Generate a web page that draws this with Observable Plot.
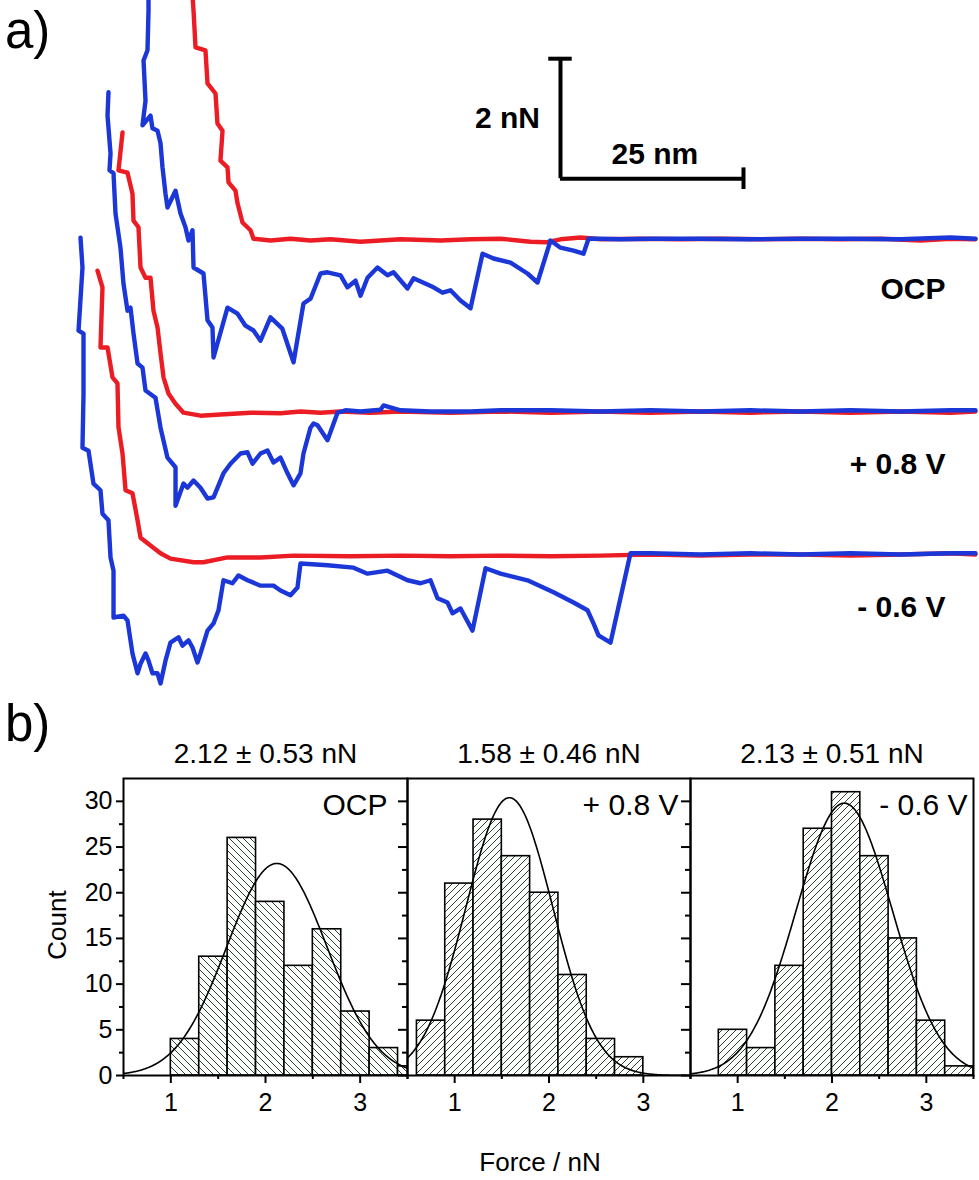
<!DOCTYPE html>
<html><head><meta charset="utf-8">
<script src="https://cdn.jsdelivr.net/npm/d3@7"></script>
<script src="https://cdn.jsdelivr.net/npm/@observablehq/plot@0.6"></script>
<style>
body{margin:0;background:#fff;}
#root{position:relative;width:979px;height:1180px;background:#fff;font-family:"Liberation Sans",Arial,sans-serif;overflow:hidden;color:#000;}
#root > svg, #root > figure{position:absolute;margin:0;}
.lbl{position:absolute;line-height:normal;white-space:nowrap;}
</style></head><body>
<svg width="0" height="0" style="position:absolute">
<defs>
<pattern id="hatchBack" patternUnits="userSpaceOnUse" width="7" height="7">
<rect width="7" height="7" fill="#fff"/>
<path d="M-1,-1L8,8M-1,6L1,8M6,-1L8,1" stroke="#274629" stroke-width="1"/>
</pattern>
<pattern id="hatchFwd" patternUnits="userSpaceOnUse" width="7" height="7">
<rect width="7" height="7" fill="#fff"/>
<path d="M-1,8L8,-1M-1,1L1,-1M6,8L8,6" stroke="#274629" stroke-width="1"/>
</pattern>
</defs>
</svg>
<div id="root"></div>
<script>
// ---------- Panel a) force–distance traces: [distance nm, force nN relative to own baseline]
const conditions = ["OCP", "+ 0.8 V", "- 0.6 V"];
const baselineOffset = [0, -2.85, -5.233]; // vertical stacking of the three pairs (nN)

const ocpRed = [[16.23,4.08],[16.37,3.83],[16.64,3.22],[18.0,3.17],[18.28,2.62],[19.37,2.45],[19.64,1.95],[20.33,1.83],[20.05,1.33],[21.01,1.22],[21.15,0.97],[22.1,0.83],[22.38,0.62],[23.06,0.3],[24.15,0.17],[24.56,0.03],[26.88,0],[29.62,0.03],[32.35,0],[35.08,0.02],[39.18,-0.02],[44.64,0.02],[50.11,0],[54.21,0.02],[58.31,0.03],[62.4,-0.02],[64.45,-0.03],[66.5,0.02],[69.23,0.05],[71.97,0.02],[77.43,0.03],[82.9,0.02],[88.36,0.03],[93.82,0.02],[99.29,0.03],[104.75,0.02],[110.22,0.03],[115.68,0],[119.78,0.03],[123.19,0.02]];
const ocpBlue = [[10.22,4.08],[10.22,3.83],[10.08,3.17],[9.54,3.0],[9.81,2.33],[9.4,1.92],[10.49,2.08],[10.76,1.87],[11.45,1.83],[11.86,1.62],[12.13,1.22],[12.54,0.78],[12.81,0.55],[13.91,0.83],[14.59,0.45],[15.27,0.22],[15.68,0],[16.23,0.17],[16.37,-0.45],[17.73,-0.55],[18.28,-1.33],[18.96,-1.45],[19.1,-1.95],[21.01,-1.12],[22.38,-1.22],[23.47,-1.42],[24.56,-1.5],[25.52,-1.67],[26.88,-1.28],[28.5,-1.47],[30.03,-2.03],[31.39,-1.05],[32.35,-0.97],[33.72,-0.55],[34.67,-0.53],[36.45,-0.58],[37.4,-0.78],[38.5,-0.67],[39.18,-0.92],[40.14,-0.62],[41.5,-0.45],[42.87,-0.58],[43.69,-0.53],[45.6,-0.8],[46.42,-0.63],[49.15,-0.78],[50.38,-0.87],[51.47,-0.83],[52.84,-1.0],[54.21,-1.13],[55.85,-0.22],[57.35,-0.3],[59.67,-0.37],[61.99,-0.55],[63.36,-0.7],[65.14,0.0],[66.5,-0.12],[68.28,-0.17],[69.64,-0.22],[70.33,0.03],[71.97,0.03],[74.7,0.02],[78.8,0.03],[85.63,0.03],[92.46,0.02],[99.29,0.03],[106.12,0.03],[112.95,0.02],[119.78,0.05],[123.19,0.03]];
const plus08Red = [[6.67,4.65],[6.12,4.02],[7.35,3.98],[8.03,3.63],[8.17,3.18],[8.85,3.07],[9.13,2.4],[9.81,2.23],[10.49,2.23],[10.9,1.68],[11.45,1.4],[11.86,0.97],[12.27,0.57],[12.95,0.3],[13.91,0.13],[15.0,-0.02],[17.32,-0.07],[20.05,-0.05],[24.15,-0.02],[28.25,-0.03],[30.98,0],[33.72,-0.02],[36.45,0],[40.55,-0.02],[44.64,0],[51.47,-0.02],[58.31,0],[65.14,-0.02],[71.97,0],[78.8,-0.02],[85.63,0],[92.46,-0.02],[99.29,0],[106.12,-0.02],[112.95,0],[119.78,-0.02],[123.19,0]];
const plus08Blue = [[4.75,5.32],[4.62,4.93],[5.03,4.3],[4.89,4.02],[5.44,3.97],[5.71,3.3],[6.39,2.73],[6.8,2.13],[7.35,1.68],[7.76,1.73],[8.17,1.3],[8.72,0.8],[9.4,0.73],[9.81,0.35],[11.17,0.23],[11.86,-0.27],[12.81,-0.77],[13.91,-0.93],[13.91,-1.57],[15.0,-1.2],[15.55,-1.27],[16.37,-1.15],[17.32,-1.27],[18.28,-1.45],[19.1,-1.43],[20.46,-1.03],[21.42,-0.87],[22.79,-0.7],[23.74,-0.68],[24.43,-0.87],[25.52,-0.7],[26.47,-0.65],[27.29,-0.85],[28.25,-0.77],[29.21,-1.03],[30.03,-1.23],[30.98,-1.03],[31.39,-0.7],[32.35,-0.27],[32.76,-0.2],[33.31,-0.23],[34.67,-0.48],[36.04,-0.02],[37.13,0.02],[39.18,0],[41.91,0.03],[42.32,0.1],[44.64,0.02],[48.74,0],[54.21,0],[58.31,0.02],[65.14,0.02],[71.97,0],[78.8,0.02],[85.63,0],[92.46,0.02],[99.29,0],[106.12,0.02],[112.95,0],[119.78,0.02],[123.19,0.02]];
const minus06Red = [[3.25,4.73],[3.93,4.45],[3.66,3.45],[4.62,3.45],[5.3,2.95],[5.98,2.85],[6.12,2.12],[6.67,1.68],[7.08,1.07],[8.03,1.02],[8.72,0.57],[9.13,0.28],[10.49,0.15],[11.86,0.02],[13.22,-0.07],[16.37,-0.13],[17.73,-0.13],[21.01,-0.05],[25.52,-0.05],[30.03,-0.02],[37.81,-0.03],[44.64,-0.02],[51.47,-0.03],[58.31,-0.02],[65.14,-0.03],[71.97,-0.02],[78.8,0],[85.63,-0.02],[92.46,0],[99.29,0],[106.12,-0.02],[112.95,0],[119.78,0.02],[123.19,0]];
const minus06Blue = [[0.93,5.28],[1.2,4.78],[0.66,3.73],[1.34,3.68],[1.34,2.68],[1.2,1.78],[2.02,1.73],[2.7,1.18],[3.66,1.07],[3.93,0.68],[4.75,0.57],[5.03,-0.05],[5.44,-0.27],[5.44,-1.05],[6.8,-1.02],[7.35,-1.1],[8.03,-1.65],[8.72,-1.98],[9.13,-1.82],[9.81,-1.65],[10.22,-1.77],[10.76,-1.98],[11.45,-1.98],[11.86,-2.15],[12.54,-1.77],[13.22,-1.47],[14.32,-1.38],[14.86,-1.52],[15.68,-1.43],[16.23,-1.55],[16.91,-1.8],[17.32,-1.65],[18.28,-1.27],[19.1,-1.15],[19.78,-0.93],[20.46,-0.43],[21.69,-0.48],[22.51,-0.35],[23.74,-0.43],[24.56,-0.47],[25.52,-0.52],[27.29,-0.52],[28.25,-0.6],[29.62,-0.68],[30.57,-0.55],[30.98,-0.15],[34.67,-0.18],[38.22,-0.22],[40.14,-0.32],[42.87,-0.27],[45.6,-0.43],[47.38,-0.48],[48.74,-0.43],[49.7,-0.73],[51.06,-0.8],[51.75,-0.98],[52.84,-0.9],[54.48,-1.27],[56.26,-0.23],[58.31,-0.32],[61.99,-0.43],[65.55,-0.63],[68.28,-0.8],[70.19,-0.93],[71.01,-1.15],[71.69,-1.35],[73.33,-1.47],[76.06,0.02],[78.8,0.02],[85.63,0],[92.46,0.02],[99.29,0],[106.12,0.02],[112.95,0],[119.78,0.02],[123.19,0.02]];

const redTraces = [ocpRed, plus08Red, minus06Red];
const blueTraces = [ocpBlue, plus08Blue, minus06Blue];
const labelOffset = [-0.82, -0.875, -0.875]; // condition label height below each baseline (nN)
const labelX = 119.1;                          // right end of condition labels (nm)
const scaleBarNm = 25, scaleBarNN = 2;
const scaleOrigin = [66.5, 1.03];              // corner of the scale bar (nm, nN)

// ---------- Panel b) histograms
const binWidth = 0.3;
const binStarts = [
  [1.0, 1.3, 1.6, 1.9, 2.2, 2.5, 2.8, 3.1, 3.4],
  [0.6, 0.9, 1.2, 1.5, 1.8, 2.1, 2.4, 2.7],
  [0.8, 1.1, 1.4, 1.7, 2.0, 2.3, 2.6, 2.9, 3.2]
];
const binCounts = [
  [4, 13, 26, 19, 12, 16, 7, 3, 1],
  [6, 21, 28, 24, 20, 11, 4, 2],
  [5, 3, 12, 27, 31, 24, 15, 6, 1]
];
const fitMean = [2.12, 1.58, 2.13];
const fitSd = [0.53, 0.46, 0.51];
const fitPeak = [23.2, 30.4, 29.8];
const histLabels = ["OCP", "+ 0.8 V", "- 0.6 V"];
const yTicks = [0, 5, 10, 15, 20, 25, 30];
const yMinor = [2.5, 7.5, 12.5, 17.5, 22.5, 27.5];
const xTicks = [1, 2, 3];
const xMinor = [0.5, 1.5, 2.5, 3.5];

const FONT = "Liberation Sans, Arial, sans-serif";
const RED = "#ec1c24", BLUE = "#1b37d8";
const root = document.getElementById("root");

function place(el, left, top) { el.style.left = left + "px"; el.style.top = top + "px"; root.appendChild(el); }

// ----- panel a
const toRows = (pts, k) => pts.map(([x, y]) => ({x, y: y + baselineOffset[k]}));
const lineOpts = (stroke) => ({x: "x", y: "y", stroke, strokeWidth: 4.4, strokeLinejoin: "round", strokeLinecap: "round", clip: true});
const [sx, sy] = scaleOrigin;
const plotA = Plot.plot({
  width: 979, height: 700, margin: 0,
  x: {domain: [-10, 123.74], axis: null},
  y: {domain: [-7.667, 4], axis: null},
  style: {background: "transparent", fontFamily: FONT, color: "black", overflow: "visible"},
  marks: [
    ...redTraces.map((t, k) => Plot.line(toRows(t, k), lineOpts(RED))),
    ...blueTraces.map((t, k) => Plot.line(toRows(t, k), lineOpts(BLUE))),
    Plot.ruleX([sx], {y1: sy, y2: sy + scaleBarNN, strokeWidth: 4, stroke: "black"}),
    Plot.ruleY([sy], {x1: sx, x2: sx + scaleBarNm, strokeWidth: 4, stroke: "black"}),
    Plot.ruleY([sy + scaleBarNN], {x1: sx - 1.6, x2: sx + 1.6, strokeWidth: 4, stroke: "black"}),
    Plot.ruleX([sx + scaleBarNm], {y1: sy - 0.18, y2: sy + 0.18, strokeWidth: 4, stroke: "black"}),
    Plot.text([`${scaleBarNN} nN`], {x: sx - 2.8, y: sy + scaleBarNN / 2, text: d => d, textAnchor: "end", fontWeight: "bold", fontSize: 30, fill: "black"}),
    Plot.text([`${scaleBarNm} nm`], {x: sx + 12.9, y: sy + 0.4, text: d => d, textAnchor: "middle", fontWeight: "bold", fontSize: 30, fill: "black"}),
    Plot.text(conditions.map((c, k) => ({c, y: baselineOffset[k] + labelOffset[k]})), {x: () => labelX, y: "y", text: "c", textAnchor: "end", fontWeight: "bold", fontSize: 30, fill: "black"})
  ]
});
place(plotA, 0, 0);

// ----- panel b
const panelLeft = [0, 405, 688], panelWidth = [409, 287, 287], panelML = [123, 2, 2];
const labelDx = [20, 12, 6];
const patterns = ["url(#hatchBack)", "url(#hatchFwd)", "url(#hatchFwd)"];
const noText = () => "";
for (let k = 0; k < 3; k++) {
  const bars = binStarts[k].map((b, j) => ({x1: b, x2: b + binWidth, y2: binCounts[k][j]}));
  const curve = d3.range(0.5, 3.5001, 0.01).map(x => ({x, y: fitPeak[k] * Math.exp(-((x - fitMean[k]) ** 2) / (2 * fitSd[k] ** 2))}));
  const title = `${fitMean[k].toFixed(2)} ± ${fitSd[k].toFixed(2)} nN`;
  const marks = [
    Plot.rect(bars, {x1: "x1", x2: "x2", y1: 0, y2: "y2", fill: patterns[k], stroke: "black", strokeWidth: 1.6, clip: true}),
    Plot.line(curve, {x: "x", y: "y", stroke: "black", strokeWidth: 1.6, clip: true}),
    Plot.frame({stroke: "black", strokeWidth: 2}),
    Plot.axisX({ticks: xTicks, tickSize: 8, tickPadding: 10, tickFormat: d => String(d), strokeWidth: 2, fontSize: 25, label: null}),
    Plot.axisX({ticks: xMinor, tickSize: 4, tickFormat: noText, strokeWidth: 2, label: null}),
    Plot.text([title], {frameAnchor: "top", dy: -16, lineAnchor: "bottom", text: d => d, fontSize: 28, fill: "black"}),
    Plot.text([histLabels[k]], {frameAnchor: "top-right", textAnchor: "end", lineAnchor: "top", dx: -labelDx[k], dy: 15, text: d => d, fontSize: 30, fill: "black"})
  ];
  if (k === 0) {
    marks.push(Plot.axisY({anchor: "left", ticks: yTicks, tickSize: 7, tickPadding: 4, tickFormat: d => String(d), strokeWidth: 2, fontSize: 25, label: null}));
    marks.push(Plot.axisY({anchor: "left", ticks: yMinor, tickSize: 4, tickFormat: noText, strokeWidth: 2, label: null}));
  }
  if (k < 2) {
    marks.push(Plot.axisY({anchor: "right", ticks: yTicks, tickSize: 10, dx: -10, tickFormat: noText, strokeWidth: 2, label: null}));
    marks.push(Plot.axisY({anchor: "right", ticks: yMinor, tickSize: 6, dx: -6, tickFormat: noText, strokeWidth: 2, label: null}));
  }
  const p = Plot.plot({
    width: panelWidth[k], height: 480,
    marginTop: 78, marginBottom: 105, marginLeft: panelML[k], marginRight: 2,
    x: {domain: [0.5, 3.5]},
    y: {domain: [0, 32.5], axis: k === 2 ? null : undefined},
    style: {background: "transparent", fontFamily: FONT, color: "black", overflow: "visible"},
    marks
  });
  place(p, panelLeft[k], 700);
}

// ----- text outside the plots
function label(text, css) { const d = document.createElement("div"); d.className = "lbl"; d.textContent = text; Object.assign(d.style, css); root.appendChild(d); return d; }
label("a)", {left: "5px", top: "1px", fontSize: "51px"});
label("b)", {left: "5px", top: "694px", fontSize: "51px"});
label("Count", {left: "57px", top: "925px", fontSize: "26px", transform: "translate(-50%,-50%) rotate(-90deg)"});
label("Force / nN", {left: "540px", top: "1162px", fontSize: "26px", transform: "translate(-50%,-50%)"});
</script>
</body></html>
